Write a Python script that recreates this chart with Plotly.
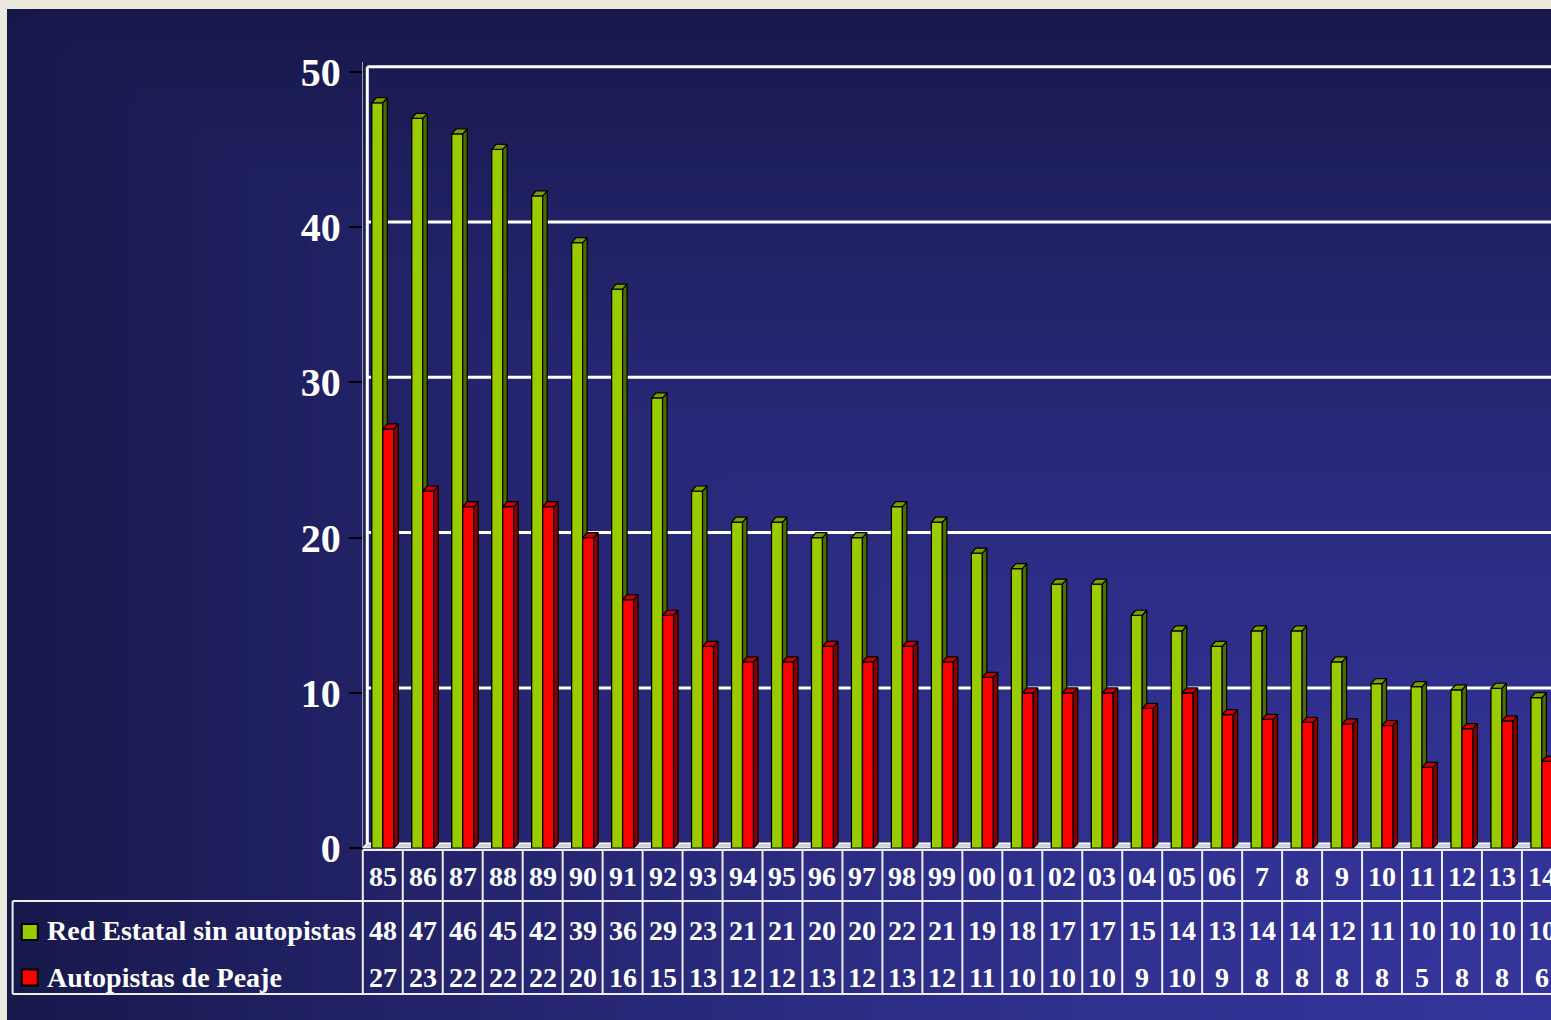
import numpy as np
import plotly.graph_objects as go

# ---------------- data ----------------
years = ["85", "86", "87", "88", "89", "90", "91", "92", "93", "94", "95", "96", "97", "98", "99",
         "00", "01", "02", "03", "04", "05", "06", "7", "8", "9", "10", "11", "12", "13", "14"]
red_estatal = [48, 47, 46, 45, 42, 39, 36, 29, 23, 21, 21, 20, 20, 22, 21,
               19, 18, 17, 17, 15, 14, 13, 14, 14, 12, 10.6, 10.4, 10.2, 10.3, 9.7]
autopistas = [27, 23, 22, 22, 22, 20, 16, 15, 13, 12, 12, 13, 12, 13, 12,
              11, 10, 10, 10, 9, 10, 8.6, 8.3, 8.1, 8.0, 7.9, 5.2, 7.7, 8.2, 5.6]
y_ticks = [0, 10, 20, 30, 40, 50]
series_names = ["Red Estatal sin autopistas", "Autopistas de Peaje"]

# ---------------- styling / geometry ----------------
W, H = 1551, 1020
X0 = 362.8      # px of first category boundary
CW = 39.97      # px per category
Y0 = 848.2      # px of value 0
PU = 15.53      # px per unit
YMAX = 50.6
DX = 4.5 / CW   # depth (data units)
DY = 5.0 / PU
BW = 0.275      # bar width (category units)
FONT = "Liberation Serif, Times New Roman, serif"
GREEN, GREEN_SIDE, GREEN_TOP = "#99CC00", "#4F6A00", "#7F9F00"
RED, RED_SIDE, RED_TOP = "#FF0000", "#8A0000", "#C80000"
LINE = "#EEEEF4"

def px_x(p):
    return p / W

def px_y(p):
    return (H - p) / H

n = len(years)
idx = list(range(n))
x_end = -0.5 + (W - X0) / CW

fig = go.Figure()

# background gradient (styling only)
gx = np.linspace(7, W, 70)
gy = np.linspace(0, H - 9, 50)
dxn = (W - gx) / (W - 7)
dyn = gy / (H - 9)
t = np.maximum(dxn[None, :], dyn[:, None])
zbg = 1 - t ** 1.6
fig.add_trace(go.Heatmap(x=gx, y=gy, z=zbg, zmin=0, zmax=1, zsmooth="best",
                         colorscale=[[0, "#17184A"], [1, "#34349A"]],
                         showscale=False, hoverinfo="skip", xaxis="x", yaxis="y"))

# front faces
fig.add_trace(go.Bar(x=idx, y=red_estatal, base=0, width=BW, offset=-BW,
                     marker=dict(color=GREEN, line=dict(color="black", width=1.3)),
                     name=series_names[0], xaxis="x2", yaxis="y2", hoverinfo="skip"))
fig.add_trace(go.Bar(x=idx, y=autopistas, base=0, width=BW, offset=0,
                     marker=dict(color=RED, line=dict(color="black", width=1.3)),
                     name=series_names[1], xaxis="x2", yaxis="y2", hoverinfo="skip"))


def poly_trace(polys, color):
    xs, ys = [], []
    for p in polys:
        for a, b in p:
            xs.append(a)
            ys.append(b)
        xs.append(p[0][0])
        ys.append(p[0][1])
        xs.append(None)
        ys.append(None)
    return go.Scatter(x=xs, y=ys, mode="lines", fill="toself", fillcolor=color,
                      line=dict(color="black", width=1.2), xaxis="x2", yaxis="y2",
                      hoverinfo="skip", showlegend=False)


g_side, g_top, r_side, r_top = [], [], [], []
for i, (g, r) in enumerate(zip(red_estatal, autopistas)):
    c = i
    g_side.append([(c, r), (c + DX, r), (c + DX, g + DY), (c, g)])
    g_top.append([(c - BW, g), (c - BW + DX, g + DY), (c + DX, g + DY), (c, g)])
    r_side.append([(c + BW, 0), (c + BW + DX, DY), (c + BW + DX, r + DY), (c + BW, r)])
    r_top.append([(c, r), (c + DX, r + DY), (c + BW + DX, r + DY), (c + BW, r)])

fig.add_trace(poly_trace(g_side, GREEN_SIDE))
fig.add_trace(poly_trace(g_top, GREEN_TOP))
fig.add_trace(poly_trace(r_side, RED_SIDE))
fig.add_trace(poly_trace(r_top, RED_TOP))

shapes = []
# floor
shapes.append(dict(type="path", xref="x2", yref="y2", layer="below",
                   path=f"M -0.5,0 L {-0.5 + DX},{DY} L {x_end + 1},{DY} L {x_end + 1},0 Z",
                   fillcolor="#D0D0D8", line=dict(color="white", width=1.5)))
# back wall left edge
shapes.append(dict(type="line", xref="x2", yref="y2", layer="below",
                   x0=-0.5 + DX, x1=-0.5 + DX, y0=DY, y1=50 + DY,
                   line=dict(color="white", width=3)))
# gridlines on the back wall
for v in y_ticks[1:]:
    shapes.append(dict(type="line", xref="x2", yref="y2", layer="below",
                       x0=-0.5 + DX, x1=x_end + 1, y0=v + DY, y1=v + DY,
                       line=dict(color="white", width=3)))

# data table grid
shapes.append(dict(type="line", xref="paper", yref="paper", x0=px_x(X0), x1=1,
                   y0=px_y(850), y1=px_y(850), line=dict(color=LINE, width=2)))
for yy in (901, 994):
    shapes.append(dict(type="line", xref="paper", yref="paper", x0=px_x(12.6), x1=1,
                       y0=px_y(yy), y1=px_y(yy), line=dict(color=LINE, width=2)))
shapes.append(dict(type="line", xref="paper", yref="paper", x0=px_x(12.6), x1=px_x(12.6),
                   y0=px_y(901), y1=px_y(994), line=dict(color=LINE, width=2)))
shapes.append(dict(type="line", xref="paper", yref="paper", x0=px_x(X0), x1=px_x(X0),
                   y0=px_y(850), y1=px_y(994), line=dict(color=LINE, width=2)))
for i in range(1, n + 1):
    shapes.append(dict(type="line", xref="x2", yref="paper", x0=i - 0.5, x1=i - 0.5,
                       y0=px_y(850), y1=px_y(994), line=dict(color=LINE, width=2)))
# legend keys
shapes.append(dict(type="rect", xref="paper", yref="paper", x0=px_x(21.8), x1=px_x(37.8),
                   y0=px_y(924), y1=px_y(940), fillcolor=GREEN, line=dict(color="black", width=2)))
shapes.append(dict(type="rect", xref="paper", yref="paper", x0=px_x(21.8), x1=px_x(37.8),
                   y0=px_y(969.5), y1=px_y(985.5), fillcolor=RED, line=dict(color="black", width=2)))

tfont = dict(family=FONT, size=28, color="white", weight="bold")
ann = []
for i, yr in enumerate(years):
    ann.append(dict(x=i, xref="x2", y=px_y(876), yref="paper", text=yr, showarrow=False,
                    font=tfont, xanchor="center", yanchor="middle"))
    ann.append(dict(x=i, xref="x2", y=px_y(930), yref="paper", text=str(round(red_estatal[i])),
                    showarrow=False, font=tfont, xanchor="center", yanchor="middle"))
    ann.append(dict(x=i, xref="x2", y=px_y(977), yref="paper", text=str(round(autopistas[i])),
                    showarrow=False, font=tfont, xanchor="center", yanchor="middle"))
ann.append(dict(x=px_x(45), xref="paper", y=px_y(930.5), yref="paper", text=series_names[0],
                showarrow=False, font=tfont, xanchor="left", yanchor="middle"))
ann.append(dict(x=px_x(45), xref="paper", y=px_y(977), yref="paper", text=series_names[1],
                showarrow=False, font=tfont, xanchor="left", yanchor="middle"))

fig.update_layout(
    width=W, height=H, autosize=False,
    margin=dict(l=0, r=0, t=0, b=0, pad=0, autoexpand=False),
    paper_bgcolor="#ECEADF", plot_bgcolor="rgba(0,0,0,0)",
    showlegend=False, barmode="overlay",
    xaxis=dict(domain=[px_x(7), 1], range=[7, W], visible=False, fixedrange=True, automargin=False),
    yaxis=dict(domain=[0, px_y(9)], range=[0, H - 9], visible=False, fixedrange=True, automargin=False),
    xaxis2=dict(domain=[px_x(X0), 1], range=[-0.5, x_end], showgrid=False, zeroline=False,
                showticklabels=False, ticks="", showline=False, anchor="y2", fixedrange=True,
                automargin=False),
    yaxis2=dict(domain=[px_y(Y0), px_y(Y0 - YMAX * PU)], range=[0, YMAX], anchor="x2",
                tickvals=y_ticks, ticktext=[str(v) for v in y_ticks], showgrid=False,
                zeroline=False, showline=True, linecolor="#9A9AA8", linewidth=1,
                ticks="outside", ticklen=13, tickwidth=2, tickcolor="black",
                tickfont=dict(family=FONT, size=40, color="white", weight="bold"),
                fixedrange=True, automargin=False),
    shapes=shapes, annotations=ann,
)

fig.write_html("out.html",
               post_script="document.body.style.margin='0';document.body.style.overflow='hidden';",
               config={"displayModeBar": False})
